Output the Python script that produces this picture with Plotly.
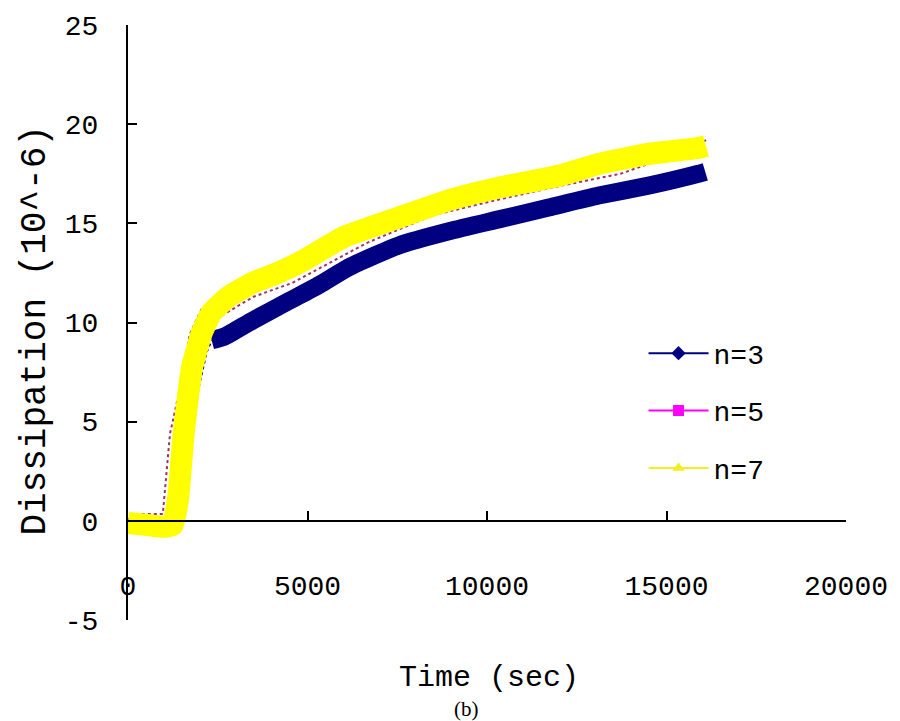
import plotly.graph_objects as go

# ---- data ----
n3_t = [0, 600, 1200, 1500, 1780, 2190, 2330, 2700, 3470, 4500, 5330, 6170, 7560, 8940, 10330, 11720, 13110, 14500, 15890, 16080]
n3_y = [0.0, 0.0, 0.0, 2.0, 5.2, 8.5, 9.1, 9.3, 10.1, 11.1, 11.9, 12.8, 13.9, 14.6, 15.2, 15.8, 16.4, 16.9, 17.5, 17.6]
n3_rise_end = 6  # index where dense (thick) part begins

n5_t = [0, 100, 970, 1170, 1450, 1720, 2080, 2470, 3500, 4580, 6640, 8470, 10330, 11800, 13720, 14500, 15500, 16100]
n5_y = [0.0, 0.35, 0.35, 4.4, 6.7, 9.4, 10.8, 10.2, 11.3, 12.0, 14.0, 15.4, 16.2, 16.8, 17.5, 18.0, 18.6, 19.2]

n7_t = [0, 500, 1000, 1250, 1400, 1550, 1780, 2060, 2330, 2800, 3470, 4170, 4860, 6000, 7560, 9000, 10330, 12000, 13110, 14500, 15890, 16100]
n7_y = [-0.1, -0.2, -0.3, -0.2, 1.2, 4.4, 7.7, 9.5, 10.5, 11.3, 12.0, 12.5, 13.1, 14.3, 15.3, 16.2, 16.8, 17.4, 18.0, 18.5, 18.8, 18.9]

series_names = ["n=3", "n=5", "n=7"]
x_ticks = [0, 5000, 10000, 15000, 20000]
y_ticks = [-5, 0, 5, 10, 15, 20, 25]

NAVY = "#000080"
MAG = "#FF00FF"
YEL = "#FFFF00"
FONT = "Liberation Mono"

fig = go.Figure()

# n=3: thin dotted rising part, thick dense part
fig.add_trace(go.Scatter(x=n3_t[:n3_rise_end + 1], y=n3_y[:n3_rise_end + 1], mode="lines",
                         line=dict(color=NAVY, width=2, dash="dot"), showlegend=False, hoverinfo="skip"))
fig.add_trace(go.Scatter(x=n3_t[n3_rise_end:], y=n3_y[n3_rise_end:], mode="lines",
                         line=dict(color=NAVY, width=18, shape="spline", smoothing=0.5),
                         showlegend=False))
# n=5
fig.add_trace(go.Scatter(x=n5_t, y=n5_y, mode="lines",
                         line=dict(color="#A0306A", width=2, dash="dot"), showlegend=False))
# n=7
fig.add_trace(go.Scatter(x=n7_t, y=n7_y, mode="lines",
                         line=dict(color=YEL, width=22, shape="spline", smoothing=0.4),
                         showlegend=False))

# legend entries
leg_styles = [(NAVY, "diamond", 11), (MAG, "square", 11), ("#F0F020", "triangle-up", 11)]
for i, (name, (c, sym, sz)) in enumerate(zip(series_names, leg_styles)):
    fig.add_trace(go.Scatter(x=[None], y=[None], mode="lines+markers", name=name,
                             legendgroup=name,
                             line=dict(color=c, width=2),
                             marker=dict(color=c, symbol=sym, size=sz)))

fig.update_layout(
    width=900, height=721,
    margin=dict(l=128, r=52, t=23, b=101),
    paper_bgcolor="white", plot_bgcolor="white",
    font=dict(family=FONT, size=27, color="black"),
    showlegend=True,
    legend=dict(x=0.718, y=0.49, xanchor="left", yanchor="top",
                font=dict(family=FONT, size=28, color="black"),
                bgcolor="rgba(0,0,0,0)", tracegroupgap=18, itemwidth=60),
    xaxis=dict(range=[0, 20000], tickvals=x_ticks, ticktext=[str(v) for v in x_ticks],
               showgrid=False, zeroline=False, showline=True, linecolor="black", linewidth=2,
               ticks="inside", ticklen=9, tickwidth=2, tickcolor="black",
               anchor="free", position=5 / 30, ticklabelstandoff=40,
               tickfont=dict(family=FONT, size=28)),
    yaxis=dict(range=[-5, 25], tickvals=y_ticks, ticktext=[str(v) for v in y_ticks],
               showgrid=False, zeroline=False, showline=True, linecolor="black", linewidth=2,
               ticks="inside", ticklen=9, tickwidth=2, tickcolor="black",
               ticklabelstandoff=22, tickfont=dict(family=FONT, size=28)),
    annotations=[
        dict(text="Dissipation (10^-6)", xref="paper", yref="paper", x=-0.129, y=0.487,
             xanchor="center", yanchor="middle", textangle=-90, showarrow=False,
             font=dict(family=FONT, size=36)),
        dict(text="Time (sec)", xref="paper", yref="paper", x=0.503, y=-0.097,
             xanchor="center", yanchor="middle", showarrow=False,
             font=dict(family=FONT, size=30)),
        dict(text="(b)", xref="paper", yref="paper", x=0.471, y=-0.149,
             xanchor="center", yanchor="middle", showarrow=False,
             font=dict(family="Liberation Serif", size=21)),
    ],
)

fig.write_html("out.html", post_script="document.body.style.margin='0';",
               config={"displayModeBar": False})
